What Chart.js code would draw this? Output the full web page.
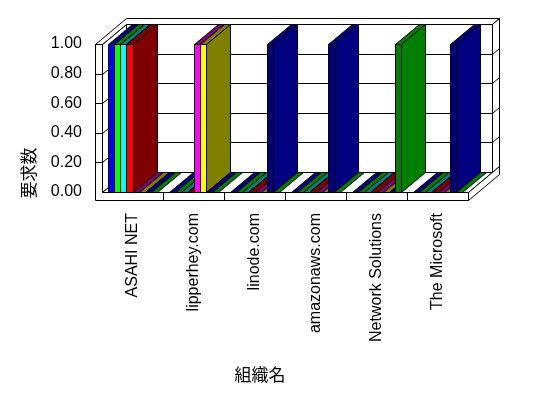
<!DOCTYPE html>
<html>
<head>
<meta charset="utf-8">
<script src="https://cdn.jsdelivr.net/npm/chart.js@4.4.1/dist/chart.umd.min.js"></script>
<style>
  html, body { margin: 0; padding: 0; background: #fff; }
  canvas { display: block; }
</style>
</head>
<body>
<canvas id="chart" width="548" height="398"></canvas>
<script>
// --- data ---
const categories = ['ASAHI NET', 'lipperhey.com', 'linode.com', 'amazonaws.com', 'Network Solutions', 'The Microsoft'];
const series1 = [1, 0, 0, 0, 0, 0];
const series2 = [1, 0, 0, 0, 0, 0];
const series3 = [1, 0, 0, 0, 0, 0];
const series4 = [1, 0, 0, 0, 0, 0];
const series5 = [0, 1, 0, 0, 0, 0];
const series6 = [0, 1, 0, 0, 0, 0];
const series7 = [0, 0, 1, 1, 0, 1];
const series8 = [0, 0, 0, 0, 1, 0];
const yTicks = [0, 0.2, 0.4, 0.6, 0.8, 1.0];
const xTitle = '組織名';
const yTitle = '要求数';

// --- look ---
const frontColors = ['#0000ff', '#00ff00', '#00ffff', '#ff0000', '#ff00ff', '#ffff00', '#000080', '#008000'];
const shadeColors = ['#000080', '#008000', '#008080', '#800000', '#800080', '#808000', '#000080', '#008000'];
const allSeries = [series1, series2, series3, series4, series5, series6, series7, series8];
const latinFont = '"Liberation Sans", Arial, sans-serif';
const cjkFont = '"Noto Sans CJK JP", sans-serif';

const DX = 24, DY = -20;      // depth of the floor, front edge to back wall
const WALL = 7;               // left wall thickness
const TX = 7.2, TY = -6;      // back wall thickness
const FLOOR = 8;              // floor slab thickness

function snap(v) { return Math.round(v) + 0.5; }

function poly(ctx, pts, fill) {
    ctx.beginPath();
    pts.forEach((p, i) => {
        if (i === 0) ctx.moveTo(snap(p[0]), snap(p[1]));
        else ctx.lineTo(snap(p[0]), snap(p[1]));
    });
    ctx.closePath();
    if (fill) { ctx.fillStyle = fill; ctx.fill(); }
    ctx.stroke();
}

function line(ctx, x1, y1, x2, y2) {
    ctx.beginPath();
    ctx.moveTo(snap(x1), snap(y1));
    ctx.lineTo(snap(x2), snap(y2));
    ctx.stroke();
}

// draws the 3D box and the bars instead of the flat bars
const box3d = {
    id: 'box3d',
    beforeDatasetsDraw(chart) {
        const ctx = chart.ctx;
        const a = chart.chartArea;
        const yScale = chart.scales.y;
        const L = a.left, R = a.right, T = a.top, B = a.bottom;

        ctx.save();
        ctx.lineWidth = 1;
        ctx.strokeStyle = '#000';

        // back wall
        poly(ctx, [[L + DX, T + DY], [R + DX, T + DY], [R + DX, B + DY], [L + DX, B + DY]], '#fff');
        // left wall inner face
        poly(ctx, [[L, T], [L + DX, T + DY], [L + DX, B + DY], [L, B]], '#fff');
        // top edges of left and back walls
        poly(ctx, [[L - WALL, T], [L - WALL + DX + TX, T + DY + TY], [R + DX + TX, T + DY + TY],
                   [R + DX, T + DY], [L + DX, T + DY], [L, T]], '#fff');
        // right face of back wall
        poly(ctx, [[R + DX, T + DY], [R + DX + TX, T + DY + TY], [R + DX + TX, B + DY + TY], [R + DX, B + DY]], '#fff');
        // floor top
        poly(ctx, [[L, B], [R, B], [R + DX, B + DY], [L + DX, B + DY]], '#fff');
        // floor right face
        poly(ctx, [[R, B], [R, B + FLOOR], [R + DX + TX, B + FLOOR + DY + TY], [R + DX + TX, B + DY + TY]], '#fff');
        // left wall front + floor front
        poly(ctx, [[L - WALL, T], [L, T], [L, B], [R, B], [R, B + FLOOR], [L - WALL, B + FLOOR]], '#fff');

        // grid lines on the walls
        yTicks.forEach(v => {
            const yf = yScale.getPixelForValue(v);
            if (v > 0 && v < 1) {
                line(ctx, L + DX, yf + DY, R + DX, yf + DY);
                line(ctx, L, yf, L + DX, yf + DY);
                line(ctx, L - WALL, yf, L, yf);
                line(ctx, R + DX, yf + DY, R + DX + TX, yf + DY + TY);
            }
        });

        // category dividers on the floor front
        const n = categories.length;
        for (let i = 1; i < n; i++) {
            const xd = L + (R - L) * i / n;
            line(ctx, xd, B, xd, B + FLOOR);
        }

        // bars, left to right so the nearer faces cover the side faces
        for (let i = 0; i < n; i++) {
            allSeries.forEach((s, d) => {
                const el = chart.getDatasetMeta(d).data[i];
                const x0 = el.x - el.width / 2, x1 = el.x + el.width / 2;
                const top = el.y, base = el.base;
                if (s[i] > 0) {
                    poly(ctx, [[x0, top], [x1, top], [x1 + DX, top + DY], [x0 + DX, top + DY]], shadeColors[d]);
                    poly(ctx, [[x1, top], [x1 + DX, top + DY], [x1 + DX, base + DY], [x1, base]], shadeColors[d]);
                    poly(ctx, [[x0, top], [x1, top], [x1, base], [x0, base]], frontColors[d]);
                } else {
                    poly(ctx, [[x0, base], [x1, base], [x1 + DX, base + DY], [x0 + DX, base + DY]], shadeColors[d]);
                }
            });
        }
        ctx.restore();
        return false;
    },
    afterDraw(chart) {
        const ctx = chart.ctx;
        ctx.save();
        ctx.fillStyle = '#000';
        ctx.font = '17px ' + cjkFont;
        ctx.textAlign = 'center';
        ctx.textBaseline = 'middle';
        ctx.fillText(xTitle, 260, 375);
        ctx.translate(29, 173);
        ctx.rotate(-Math.PI / 2);
        ctx.fillText(yTitle, 0, 0);
        ctx.restore();
    }
};

new Chart(document.getElementById('chart'), {
    type: 'bar',
    data: {
        labels: categories,
        datasets: allSeries.map((s, i) => ({
            label: 'series' + (i + 1),
            data: s,
            backgroundColor: frontColors[i],
            borderColor: '#000',
            borderWidth: 1
        }))
    },
    options: {
        responsive: false,
        animation: false,
        devicePixelRatio: 1,
        layout: { padding: { top: 44, right: 80, bottom: 0, left: 0 } },
        datasets: { bar: { categoryPercentage: 0.8, barPercentage: 1 } },
        plugins: {
            legend: { display: false },
            tooltip: { enabled: false }
        },
        scales: {
            x: {
                grid: { display: false, drawTicks: false },
                border: { display: false },
                ticks: {
                    color: '#000',
                    font: { family: latinFont, size: 16 },
                    minRotation: 90,
                    maxRotation: 90,
                    autoSkip: false,
                    padding: 21
                },
                afterFit(scale) { scale.height = 206; }
            },
            y: {
                min: 0,
                max: 1,
                grid: { display: false, drawTicks: false },
                border: { display: false },
                afterBuildTicks(scale) { scale.ticks = yTicks.map(v => ({ value: v })); },
                ticks: {
                    color: '#000',
                    font: { family: latinFont, size: 16 },
                    padding: 20,
                    callback: v => Number(v).toFixed(2)
                },
                afterFit(scale) { scale.width = 102; }
            }
        }
    },
    plugins: [box3d]
});
</script>
</body>
</html>
